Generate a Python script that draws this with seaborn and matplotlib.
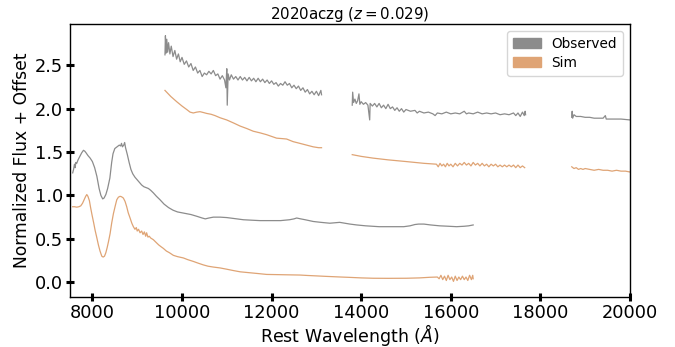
import matplotlib
matplotlib.use("Agg")
import matplotlib.pyplot as plt
from matplotlib.patches import Patch
import seaborn as sns
import pandas as pd

# ---------------- data ----------------
obs_low_wave = [7560, 7580, 7600, 7615, 7630, 7650, 7680, 7720, 7760, 7800, 7830, 7860, 7900, 7950,
                8000, 8050, 8100, 8150, 8190, 8230, 8260, 8300, 8340, 8390, 8430, 8460, 8500, 8550,
                8600, 8630, 8650, 8670, 8700, 8720, 8740, 8780, 8820, 8860, 8900, 8950, 9000, 9050,
                9100, 9150, 9200, 9250, 9300, 9360, 9430, 9510, 9600, 9700, 9800, 9900, 10000, 10100,
                10200, 10330, 10450, 10520, 10600, 10700, 10850, 11000, 11150, 11370, 11550, 11740,
                12000, 12200, 12400, 12500, 12560, 12650, 12750, 12930, 13100, 13300, 13520, 13750,
                13900, 14100, 14400, 14700, 14950, 15090, 15200, 15280, 15400, 15550, 15750, 15950,
                16130, 16300, 16400, 16500]
obs_low_flux = [1.26, 1.30, 1.36, 1.32, 1.38, 1.37, 1.41, 1.45, 1.49, 1.52, 1.51, 1.49, 1.46, 1.43,
                1.39, 1.32, 1.22, 1.08, 1.00, 0.96, 0.97, 1.01, 1.08, 1.20, 1.38, 1.48, 1.54, 1.56,
                1.58, 1.57, 1.60, 1.56, 1.58, 1.61, 1.55, 1.47, 1.38, 1.30, 1.25, 1.21, 1.18, 1.15,
                1.12, 1.10, 1.09, 1.08, 1.06, 1.03, 0.99, 0.95, 0.90, 0.86, 0.83, 0.81, 0.80, 0.79,
                0.78, 0.76, 0.74, 0.73, 0.74, 0.75, 0.75, 0.745, 0.735, 0.72, 0.715, 0.71,
                0.71, 0.71, 0.72, 0.73, 0.74, 0.73, 0.72, 0.70, 0.69, 0.68, 0.69, 0.67,
                0.66, 0.65, 0.64, 0.64, 0.64, 0.65, 0.665, 0.67, 0.67, 0.66, 0.65, 0.645,
                0.64, 0.645, 0.65, 0.66]

obs_top_wave = [9620, 9630, 9645, 9660, 9680, 9700, 9730, 9760, 9800, 9840, 9880, 9920, 9960, 10000,
                10050, 10100, 10150, 10200, 10250, 10300, 10350, 10400, 10450, 10500, 10550, 10600,
                10650, 10700, 10750, 10800, 10850, 10900, 10950, 10980, 11000, 11010, 11030, 11060,
                11100, 11150, 11200, 11250, 11300, 11350, 11400, 11450, 11500, 11550, 11600, 11650,
                11700, 11750, 11800, 11850, 11900, 11950, 12000, 12050, 12100, 12150, 12200, 12250,
                12300, 12350, 12400, 12450, 12500, 12550, 12600, 12650, 12700, 12750, 12800, 12850,
                12900, 12950, 13000, 13050, 13100, 13115]
obs_top_flux = [2.62, 2.84, 2.64, 2.80, 2.65, 2.76, 2.63, 2.72, 2.60, 2.67, 2.57, 2.63, 2.54, 2.59,
                2.51, 2.55, 2.48, 2.52, 2.44, 2.48, 2.41, 2.44, 2.37, 2.41, 2.39, 2.43,
                2.40, 2.44, 2.38, 2.40, 2.34, 2.38, 2.33, 2.24, 2.46, 2.04, 2.40, 2.33,
                2.39, 2.34, 2.37, 2.33, 2.37, 2.33, 2.36, 2.32, 2.36, 2.32, 2.35, 2.31,
                2.35, 2.31, 2.34, 2.30, 2.33, 2.29, 2.32, 2.28, 2.30, 2.26, 2.29, 2.27,
                2.31, 2.27, 2.29, 2.24, 2.27, 2.23, 2.26, 2.21, 2.24, 2.19, 2.22, 2.17,
                2.20, 2.16, 2.20, 2.15, 2.21, 2.16]

obs_mid_wave = [13800, 13810, 13830, 13860, 13890, 13920, 13950, 13970, 14000, 14050, 14100, 14150,
                14190, 14200, 14250, 14300, 14350, 14400, 14450, 14500, 14550, 14600, 14650, 14700,
                14750, 14800, 14850, 14900, 14950, 15000, 15100, 15200, 15250, 15300, 15400, 15500,
                15600, 15650, 15700, 15800, 15900, 16000, 16100, 16200, 16300, 16350, 16400, 16500,
                16600, 16700, 16800, 16900, 17000, 17100, 17200, 17300, 17400, 17450, 17500, 17550,
                17600, 17640, 17660, 17670]
obs_mid_flux = [2.04, 2.19, 2.07, 2.11, 2.06, 2.09, 2.17, 2.05, 2.08, 2.05, 2.07, 2.04,
                1.87, 2.06, 2.03, 2.06, 2.02, 2.06, 2.01, 2.04, 2.00, 2.05, 2.00, 2.02,
                1.98, 2.01, 1.97, 2.00, 1.96, 1.99, 1.97, 1.98, 1.95, 1.97, 1.95, 1.96,
                1.94, 1.92, 1.95, 1.94, 1.96, 1.94, 1.95, 1.94, 1.97, 1.94, 1.95, 1.94,
                1.96, 1.94, 1.95, 1.94, 1.95, 1.93, 1.94, 1.93, 1.95, 1.92, 1.95, 1.91,
                1.96, 1.92, 1.97, 1.93]

obs_far_wave = [18700, 18710, 18720, 18750, 18800, 18900, 19000, 19100, 19200, 19300, 19400,
                19450, 19470, 19600, 19800, 20000]
obs_far_flux = [1.90, 1.97, 1.89, 1.93, 1.91, 1.91, 1.90, 1.90, 1.89, 1.89, 1.89,
                1.92, 1.88, 1.88, 1.88, 1.87]

sim_low_wave = [7560, 7600, 7650, 7700, 7740, 7780, 7815, 7850, 7875, 7900, 7933, 7960, 7990, 8030,
                8060, 8100, 8134, 8170, 8210, 8240, 8270, 8300, 8330, 8360, 8395, 8430, 8469, 8510,
                8544, 8580, 8618, 8650, 8691, 8730, 8766, 8800, 8841, 8880, 8915, 8950, 8980, 9000,
                9030, 9064, 9100, 9130, 9160, 9190, 9210, 9240, 9270, 9300, 9361, 9420, 9480, 9530,
                9584, 9650, 9720, 9807, 9900, 10030, 10130, 10252, 10360, 10475, 10580, 10698, 10848,
                11000, 11143, 11300, 11500, 11700, 11889, 12100, 12300, 12632, 12800, 13004, 13200,
                13375, 13550, 13747, 14000, 14266, 14600, 15011, 15300, 15530, 15700, 15740, 15780,
                15820, 15860, 15900, 15940, 15980, 16020, 16060, 16100, 16140, 16180, 16220, 16260,
                16300, 16340, 16380, 16420, 16460, 16490, 16500]
sim_low_flux = [0.87, 0.87, 0.865, 0.87, 0.88, 0.91, 0.95, 0.99, 1.01, 0.99, 0.94, 0.86, 0.78, 0.68,
                0.60, 0.51, 0.43, 0.36, 0.30, 0.29, 0.30, 0.34, 0.40, 0.47, 0.56, 0.68, 0.79, 0.88,
                0.95, 0.98, 0.99, 0.985, 0.97, 0.93, 0.87, 0.80, 0.74, 0.68, 0.64, 0.61, 0.63, 0.59,
                0.61, 0.57, 0.59, 0.55, 0.58, 0.53, 0.57, 0.52, 0.53, 0.51, 0.49, 0.46, 0.43, 0.41,
                0.39, 0.36, 0.34, 0.31, 0.295, 0.28, 0.26, 0.24, 0.22, 0.20, 0.185, 0.175, 0.165,
                0.15, 0.135, 0.12, 0.11, 0.10, 0.09, 0.088, 0.086, 0.083, 0.078, 0.073, 0.068,
                0.064, 0.06, 0.056, 0.05, 0.046, 0.045, 0.046, 0.05, 0.057, 0.06, 0.04, 0.08,
                0.03, 0.07, 0.02, 0.08, 0.03, 0.06, 0.01, 0.07, 0.02, 0.06, 0.03, 0.07,
                0.03, 0.06, 0.02, 0.08, 0.03, 0.08, 0.04]

sim_top_wave = [9620, 9750, 9882, 10000, 10105, 10180, 10252, 10330, 10402, 10480, 10550, 10650,
                10736, 10850, 10997, 11150, 11294, 11450, 11590, 11750, 11889, 12000, 12112, 12230,
                12335, 12480, 12632, 12780, 12929, 13050, 13115]
sim_top_flux = [2.21, 2.14, 2.08, 2.03, 1.99, 1.96, 1.95, 1.96, 1.965, 1.955, 1.945, 1.935,
                1.92, 1.895, 1.87, 1.835, 1.80, 1.77, 1.74, 1.72, 1.70, 1.68, 1.66, 1.655,
                1.65, 1.62, 1.60, 1.58, 1.56, 1.55, 1.55]

sim_mid_wave = [13800, 14000, 14266, 14600, 15011, 15400, 15680, 15720, 15760, 15800, 15840, 15880,
                15920, 15960, 16000, 16050, 16100, 16150, 16200, 16250, 16300, 16350, 16400, 16450,
                16500, 16550, 16600, 16650, 16700, 16750, 16800, 16850, 16900, 16950, 17000, 17050,
                17100, 17150, 17200, 17250, 17300, 17350, 17400, 17450, 17500, 17550, 17600, 17650]
sim_mid_flux = [1.47, 1.45, 1.43, 1.41, 1.39, 1.37, 1.36, 1.33, 1.37, 1.34, 1.36, 1.33,
                1.37, 1.34, 1.36, 1.33, 1.37, 1.34, 1.37, 1.35, 1.38, 1.35, 1.37, 1.34,
                1.38, 1.35, 1.37, 1.34, 1.37, 1.34, 1.36, 1.33, 1.36, 1.34, 1.36, 1.33,
                1.35, 1.33, 1.35, 1.33, 1.35, 1.33, 1.35, 1.32, 1.35, 1.32, 1.34, 1.32]

sim_far_wave = [18700, 18750, 18800, 18850, 18900, 18950, 19000, 19100, 19200, 19300, 19400, 19500,
                19600, 19700, 19800, 19900, 20000]
sim_far_flux = [1.33, 1.31, 1.32, 1.30, 1.31, 1.30, 1.31, 1.30, 1.29, 1.30, 1.29, 1.29,
                1.28, 1.29, 1.28, 1.28, 1.27]

series_labels = ["Observed", "Sim"]
x_ticks = [8000, 10000, 12000, 14000, 16000, 18000, 20000]
y_ticks = [0.0, 0.5, 1.0, 1.5, 2.0, 2.5]

# ---------------- build long table ----------------
segments = [
    ("Observed", "obs_low", obs_low_wave, obs_low_flux),
    ("Observed", "obs_top", obs_top_wave, obs_top_flux),
    ("Observed", "obs_mid", obs_mid_wave, obs_mid_flux),
    ("Observed", "obs_far", obs_far_wave, obs_far_flux),
    ("Sim", "sim_low", sim_low_wave, sim_low_flux),
    ("Sim", "sim_top", sim_top_wave, sim_top_flux),
    ("Sim", "sim_mid", sim_mid_wave, sim_mid_flux),
    ("Sim", "sim_far", sim_far_wave, sim_far_flux),
]
rows = []
for kind, seg, w, f in segments:
    for wi, fi in zip(w, f):
        rows.append({"wave": wi, "flux": fi, "kind": kind, "seg": seg})
df = pd.DataFrame(rows)

colors = {"Observed": "#8c8c8c", "Sim": "#dfa475"}

# ---------------- plot ----------------
plt.rcParams['font.family'] = ['DejaVu Sans']
fig = plt.figure(figsize=(6.75, 3.47), dpi=100)
ax = fig.add_axes([0.1037, 0.1441, 0.8296, 0.7867])

sns.lineplot(data=df, x="wave", y="flux", hue="kind", units="seg", estimator=None,
             palette=colors, sort=False, legend=False, linewidth=0.9, ax=ax)

ax.set_xlim(7500, 20000)
ax.set_ylim(-0.17, 2.975)
ax.set_xticks(x_ticks)
ax.set_yticks(y_ticks)
ax.set_yticklabels([f"{v:.1f}" for v in y_ticks])
ax.tick_params(axis="both", direction="inout", length=6, width=2.2, labelsize=12.8, pad=2)
for s in ax.spines.values():
    s.set_linewidth(1.0)

ax.set_xlabel(r"Rest Wavelength ($\AA$)", fontsize=12.5, labelpad=0)
ax.set_ylabel("Normalized Flux + Offset", fontsize=12.3, labelpad=3)
ax.set_title(r"2020aczg ($z = 0.029$)", fontsize=10.8, pad=3)

handles = [Patch(facecolor=colors[k], edgecolor=colors[k], label=k) for k in series_labels]
ax.legend(handles=handles, loc="upper right", fontsize=9.8, frameon=True,
          labelspacing=0.35, handlelength=2.0, borderpad=0.45)

fig.savefig("out.png", dpi=100)
